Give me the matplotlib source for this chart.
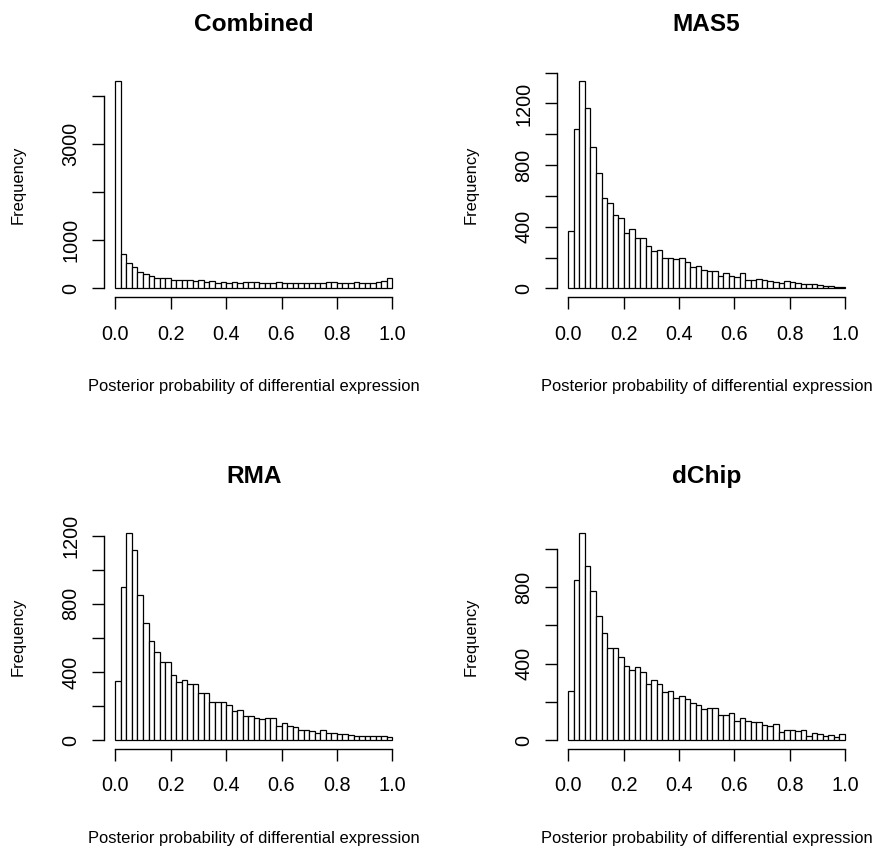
import numpy as np
import matplotlib
matplotlib.use('Agg')
import matplotlib.pyplot as plt

plt.rcParams['font.family'] = ['Liberation Sans', 'DejaVu Sans']

# counts per bin, 50 bins of width 0.02 over [0, 1]
combined = [4311, 706, 526, 436, 332, 298, 263, 221, 221, 208,
            173, 173, 173, 173, 152, 166, 125, 146, 118, 125,
            118, 125, 118, 125, 132, 125, 111, 118, 104, 132,
            118, 111, 104, 118, 118, 111, 118, 104, 132, 125,
            118, 118, 111, 125, 111, 118, 118, 125, 146, 222]
mas5 = [372, 1035, 1349, 1170, 920, 747, 589, 554, 474, 455,
        360, 383, 329, 329, 277, 243, 249, 199, 195, 191,
        195, 169, 141, 143, 117, 115, 115, 82, 102, 80,
        76, 102, 58, 58, 61, 58, 50, 43, 37, 50,
        41, 37, 30, 30, 26, 22, 17, 15, 11, 9]
rma = [350, 901, 1218, 1116, 850, 690, 584, 520, 457, 457,
       385, 344, 356, 332, 332, 276, 276, 223, 227, 223,
       204, 174, 180, 143, 143, 131, 125, 129, 129, 86,
       98, 84, 76, 59, 59, 55, 45, 59, 45, 43,
       39, 37, 33, 23, 23, 23, 23, 27, 27, 18]
dchip = [258, 836, 1085, 911, 782, 648, 562, 482, 484, 437,
         386, 369, 384, 356, 292, 314, 292, 250, 255, 218,
         232, 215, 197, 183, 164, 166, 166, 131, 131, 141,
         98, 114, 101, 94, 93, 79, 72, 86, 44, 51,
         54, 49, 51, 21, 35, 30, 24, 26, 17, 30]

titles = ['Combined', 'MAS5', 'RMA', 'dChip']
series = [combined, mas5, rma, dchip]
y_ticks = [[0, 1000, 2000, 3000, 4000],
           [0, 200, 400, 600, 800, 1000, 1200, 1400],
           [0, 200, 400, 600, 800, 1000, 1200],
           [0, 200, 400, 600, 800, 1000]]
y_labels = [['0', '1000', '', '3000', ''],
            ['0', '', '400', '', '800', '', '1200', ''],
            ['0', '', '400', '', '800', '', '1200'],
            ['0', '', '400', '', '800', '']]
x_ticks = [0.0, 0.2, 0.4, 0.6, 0.8, 1.0]
x_label = 'Posterior probability of differential expression'

W, H = 875, 847
fig = plt.figure(figsize=(W / 100, H / 100), dpi=100)

# plot regions in pixels: (left, top, right, bottom)
regions = [(104.2, 72.2, 403.4, 296.8),
           (557.3, 72.2, 856.0, 296.8),
           (104.2, 524.3, 403.4, 748.5),
           (557.3, 524.3, 856.0, 748.5)]

edges = np.linspace(0, 1, 51)

for (l, t, r, b), title, counts, yt, yl in zip(regions, titles, series, y_ticks, y_labels):
    ax = fig.add_axes([l / W, 1 - b / H, (r - l) / W, (b - t) / H])
    ax.bar(edges[:-1], counts, width=np.diff(edges), align='edge',
           color='white', edgecolor='black', linewidth=0.9)
    ymax = max(counts)
    ax.set_xlim(-0.04, 1.04)
    ax.set_ylim(-0.04 * ymax, 1.04 * ymax)

    for s in ['top', 'right']:
        ax.spines[s].set_visible(False)
    ax.spines['bottom'].set_bounds(0, 1)
    ax.spines['left'].set_bounds(yt[0], yt[-1])
    ax.spines['bottom'].set_linewidth(1.0)
    ax.spines['left'].set_linewidth(1.0)

    ax.set_xticks(x_ticks)
    ax.set_xticklabels([f'{v:.1f}' for v in x_ticks])
    ax.set_yticks(yt)
    ax.set_yticklabels(yl, rotation=90, va='center')
    ax.tick_params(axis='both', length=8.6, width=1.0, labelsize=14.3)
    ax.tick_params(axis='x', pad=11.5)
    ax.tick_params(axis='y', pad=8.5)

    ax.set_title(title, fontsize=17.6, fontweight='bold', pad=29.5)
    ax.set_xlabel(x_label, fontsize=11.9)
    ax.xaxis.set_label_coords(0.5, -90 / (b - t))
    ax.xaxis.label.set_va('center')
    ax.set_ylabel('Frequency', fontsize=11.9)
    ax.yaxis.set_label_coords(-86 / (r - l), 0.5)
    ax.yaxis.label.set_va('center')

fig.savefig('out.png', dpi=100, facecolor='white')
